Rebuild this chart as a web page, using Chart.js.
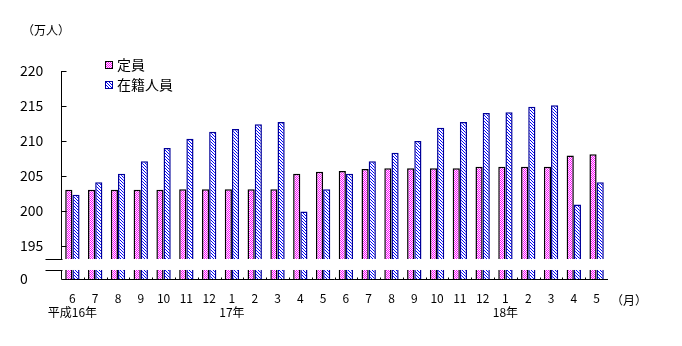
<!DOCTYPE html>
<html>
<head>
<meta charset="utf-8">
<script src="https://cdn.jsdelivr.net/npm/chart.js@4/dist/chart.umd.min.js"></script>
<style>
  html, body { margin: 0; padding: 0; background: #fff; }
  #wrap { width: 682px; height: 346px; }
</style>
</head>
<body>
<div id="wrap"><canvas id="chart" width="682" height="346"></canvas></div>
<script>
const FONT = "'Noto Sans CJK JP', 'DejaVu Sans', sans-serif";

// 平成16年6月 〜 18年5月
const MONTH_LABELS = [
  ["6", "平成16年"], "7", "8", "9", "10", "11", "12",
  ["1", "17年"], "2", "3", "4", "5", "6", "7", "8", "9", "10", "11", "12",
  ["1", "18年"], "2", "3", "4", "5",
];

// 定員 (万人)
const teiin = [
  203.0, 203.0, 203.0, 203.0, 203.0, 203.1, 203.1,
  203.1, 203.1, 203.1, 205.3, 205.6, 205.7, 206.0, 206.1, 206.1, 206.1, 206.1, 206.3,
  206.3, 206.3, 206.3, 207.9, 208.1,
];

// 在籍人員 (万人)
const zaiseki = [
  202.3, 204.1, 205.3, 207.1, 209.0, 210.3, 211.3,
  211.7, 212.4, 212.7, 199.9, 203.1, 205.3, 207.1, 208.3, 210.0, 211.9, 212.7, 214.0,
  214.1, 214.9, 215.1, 200.9, 204.1,
];

const Y_TICKS = [0, 195, 200, 205, 210, 215, 220];

// broken axis: everything above the break is shifted down by this amount
const Y_OFFSET = 190.25;
const BREAK_LOW = 1.29;
const BREAK_HIGH = 2.86;

const toAxis = (v) => v - Y_OFFSET;
const fromAxis = (d) => (d === 0 ? 0 : Math.round(d + Y_OFFSET));

const makePattern = (size, fg, test) => {
  const c = document.createElement("canvas");
  c.width = size;
  c.height = size;
  const cx = c.getContext("2d");
  cx.fillStyle = "#fff";
  cx.fillRect(0, 0, size, size);
  cx.fillStyle = fg;
  for (let y = 0; y < size; y++) {
    for (let x = 0; x < size; x++) {
      if (test(x, y)) cx.fillRect(x, y, 1, 1);
    }
  }
  return document.getElementById("chart").getContext("2d").createPattern(c, "repeat");
};

const checker = makePattern(2, "#ff00ff", (x, y) => (x + y) % 2 === 0);
const hatch = makePattern(3, "#0000ff", (x, y) => (x - y + 9) % 3 === 0);

const decorations = {
  id: "decorations",
  afterDatasetsDraw(chart) {
    const { ctx, chartArea, scales } = chart;
    const yHi = scales.y.getPixelForValue(BREAK_HIGH);
    const yLo = scales.y.getPixelForValue(BREAK_LOW);
    ctx.save();
    ctx.fillStyle = "#fff";
    ctx.fillRect(chartArea.left - 16, yHi, chartArea.right - chartArea.left + 16, yLo - yHi);
    ctx.restore();
  },
  afterDraw(chart) {
    const { ctx, chartArea, scales } = chart;
    const left = Math.round(chartArea.left) + 0.5;
    const bottom = Math.round(chartArea.bottom) + 0.5;
    const yHi = Math.round(scales.y.getPixelForValue(BREAK_HIGH)) + 0.5;
    const yLo = Math.round(scales.y.getPixelForValue(BREAK_LOW)) + 0.5;
    ctx.save();
    ctx.strokeStyle = "#000";
    ctx.lineWidth = 1;
    ctx.beginPath();
    // y axis (broken)
    ctx.moveTo(left, chartArea.top);
    ctx.lineTo(left, yHi);
    ctx.moveTo(left, yLo);
    ctx.lineTo(left, bottom);
    // break marks
    ctx.moveTo(left - 16, yHi);
    ctx.lineTo(left + 1, yHi);
    ctx.moveTo(left - 16, yLo);
    ctx.lineTo(left + 1, yLo);
    // y ticks, pointing inward
    Y_TICKS.forEach((t) => {
      if (t === 0) return;
      const py = Math.round(scales.y.getPixelForValue(toAxis(t))) + 0.5;
      ctx.moveTo(left, py);
      ctx.lineTo(left + 5, py);
    });
    // x axis
    ctx.moveTo(left, bottom);
    ctx.lineTo(chartArea.right, bottom);
    for (let i = 0; i < MONTH_LABELS.length; i++) {
      const a = scales.x.getPixelForValue(i);
      const b = i + 1 < MONTH_LABELS.length
        ? scales.x.getPixelForValue(i + 1)
        : chartArea.right + (chartArea.right - a);
      const px = Math.round((a + b) / 2) + 0.5;
      if (px > chartArea.right) continue;
      ctx.moveTo(px, bottom);
      ctx.lineTo(px, bottom - 2);
    }
    ctx.stroke();

    // units
    ctx.fillStyle = "#000";
    ctx.textBaseline = "middle";
    ctx.textAlign = "left";
    ctx.font = `12px ${FONT}`;
    ctx.fillText("（万人）", 22, 30);
    ctx.fillText("（月）", chartArea.right + 3, 300);

    // legend
    const legend = [
      { text: "定員", fill: checker, stroke: "#000" },
      { text: "在籍人員", fill: hatch, stroke: "#000099" },
    ];
    ctx.font = `14px ${FONT}`;
    legend.forEach((item, i) => {
      const ly = 65 + i * 20;
      ctx.fillStyle = item.fill;
      ctx.fillRect(105, ly - 4, 8, 8);
      ctx.strokeStyle = item.stroke;
      ctx.strokeRect(105.5, ly - 3.5, 7, 7);
      ctx.fillStyle = "#000";
      ctx.fillText(item.text, 117, ly);
    });
    ctx.restore();
  },
};

new Chart(document.getElementById("chart"), {
  type: "bar",
  data: {
    labels: MONTH_LABELS,
    datasets: [
      {
        label: "定員",
        data: teiin.map(toAxis),
        backgroundColor: checker,
        borderColor: "#000",
        borderWidth: 1.5,
        borderSkipped: "bottom",
        inflateAmount: 0,
      },
      {
        label: "在籍人員",
        data: zaiseki.map(toAxis),
        backgroundColor: hatch,
        borderColor: "#000099",
        borderWidth: 1.5,
        borderSkipped: "bottom",
        inflateAmount: 0,
      },
    ],
  },
  options: {
    responsive: false,
    animation: false,
    categoryPercentage: 0.63,
    barPercentage: 1.0,
    layout: { padding: { left: 20, right: 74, top: 71, bottom: 0 } },
    plugins: {
      legend: { display: false },
      tooltip: { enabled: false },
    },
    scales: {
      x: {
        offset: true,
        grid: { display: false, drawTicks: false },
        border: { display: false },
        ticks: {
          padding: 12,
          color: "#000",
          autoSkip: false,
          maxRotation: 0,
          font: { size: 12, family: FONT },
        },
        afterFit: (scale) => {
          scale.height = 67;
        },
      },
      y: {
        min: 0,
        max: toAxis(220),
        grid: { display: false, drawTicks: false },
        border: { display: false },
        afterBuildTicks: (scale) => {
          scale.ticks = Y_TICKS.map((t) => ({ value: t === 0 ? 0 : toAxis(t) }));
        },
        afterFit: (scale) => {
          scale.width = 41;
        },
        ticks: {
          crossAlign: "far",
          color: "#000",
          font: { size: 14, family: FONT },
          callback: (v) => String(fromAxis(v)),
        },
      },
    },
  },
  plugins: [decorations],
});
</script>
</body>
</html>
